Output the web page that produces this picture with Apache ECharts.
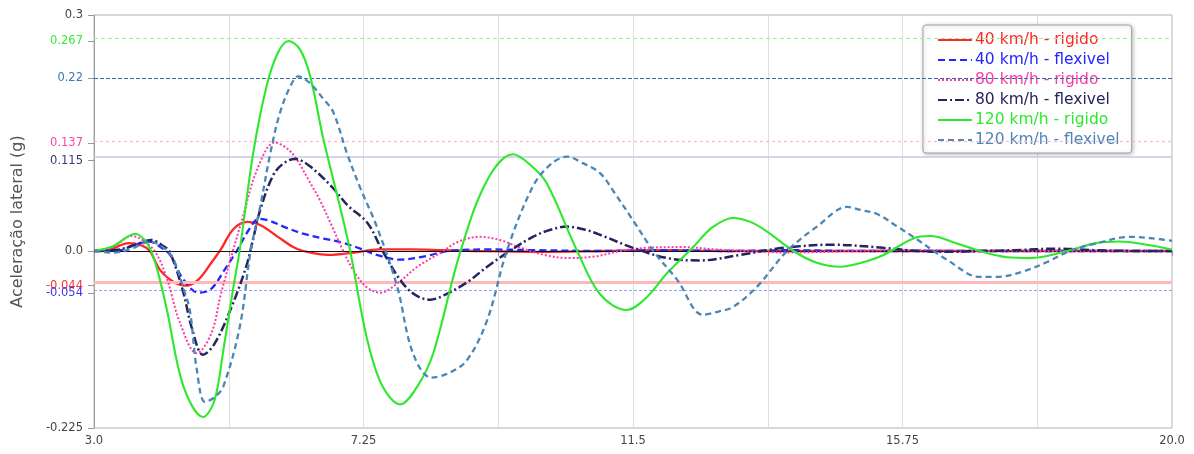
<!DOCTYPE html>
<html>
<head>
<meta charset="utf-8">
<script src="https://cdn.jsdelivr.net/npm/echarts@6/dist/echarts.min.js"></script>
<style>
html,body{margin:0;padding:0;background:#fff;}
#chart{width:1194px;height:454px;}
</style>
</head>
<body>
<div id="chart"></div>
<script>
// ---- data (time in s, lateral acceleration in g) ----
const seriesNames = ['40 km/h - rigido','40 km/h - flexivel','80 km/h - rigido','80 km/h - flexivel','120 km/h - rigido','120 km/h - flexivel'];

const r40 = [[3.0,0],[3.25,0.002],[3.55,0.010],[3.75,0.007],[3.88,0.0],[4.04,-0.024],[4.25,-0.039],[4.45,-0.044],[4.65,-0.036],[4.85,-0.015],[5.0,0.002],[5.2,0.028],[5.42,0.037],[5.62,0.033],[5.9,0.018],[6.14,0.005],[6.3,0.0],[6.7,-0.005],[7.1,-0.002],[7.5,0.002],[8.0,0.002],[8.5,0.001],[9.0,0],[10.0,-0.001],[11.0,0],[12.0,0.001],[13.0,0],[14.0,0],[15.0,0],[16.0,0],[17.0,0],[18.0,0],[19.0,0],[20.0,0]];

const f40 = [[3.0,0],[3.4,0.001],[3.65,0.008],[3.87,0.012],[4.05,0.005],[4.2,-0.005],[4.4,-0.035],[4.65,-0.053],[4.85,-0.048],[5.05,-0.025],[5.25,0.0],[5.45,0.028],[5.6,0.041],[5.75,0.039],[6.05,0.029],[6.3,0.022],[6.6,0.016],[6.9,0.011],[7.2,0.003],[7.46,-0.005],[7.83,-0.011],[8.2,-0.007],[8.6,0.0],[9.2,0.002],[10.0,0.001],[11.0,0],[12.0,0.001],[13.0,0],[14.0,0.001],[15.0,0],[16.0,0],[17.0,0],[18.0,0],[19.0,0],[20.0,0]];

const r80 = [[3.0,0],[3.3,0.005],[3.6,0.019],[3.8,0.012],[3.98,-0.003],[4.15,-0.035],[4.35,-0.09],[4.62,-0.13],[4.85,-0.105],[5.0,-0.055],[5.19,0.0],[5.35,0.044],[5.57,0.103],[5.85,0.138],[6.05,0.13],[6.2,0.116],[6.4,0.088],[6.56,0.065],[6.75,0.032],[6.93,0.0],[7.1,-0.026],[7.3,-0.046],[7.52,-0.053],[7.8,-0.04],[8.1,-0.02],[8.45,-0.003],[8.75,0.012],[9.09,0.018],[9.4,0.014],[9.7,0.005],[10.1,-0.005],[10.5,-0.009],[10.9,-0.007],[11.3,0.0],[11.7,0.004],[12.3,0.005],[12.8,0.002],[13.5,-0.001],[14.0,-0.002],[15.0,0],[16.0,0.001],[17.0,0],[18.0,0],[19.0,0],[20.0,0]];

const f80 = [[3.0,0],[3.4,0.002],[3.65,0.008],[3.9,0.014],[4.1,0.006],[4.2,-0.002],[4.4,-0.05],[4.55,-0.1],[4.72,-0.132],[4.9,-0.118],[5.15,-0.075],[5.4,-0.02],[5.5,0.012],[5.62,0.052],[5.83,0.097],[6.0,0.112],[6.17,0.117],[6.4,0.108],[6.77,0.08],[7.0,0.058],[7.31,0.036],[7.55,0.0],[7.83,-0.037],[8.05,-0.055],[8.3,-0.062],[8.55,-0.055],[8.88,-0.04],[9.2,-0.02],[9.5,-0.003],[9.92,0.018],[10.2,0.027],[10.46,0.031],[10.75,0.027],[11.0,0.02],[11.5,0.004],[12.04,-0.009],[12.56,-0.012],[13.19,-0.005],[13.87,0.004],[14.66,0.008],[15.45,0.004],[16.0,0.0],[16.5,-0.001],[17.0,0],[17.5,0.001],[18.2,0.003],[18.8,0.001],[19.5,0],[20.0,0]];

const r120 = [[3.0,0],[3.3,0.006],[3.65,0.022],[3.8,0.014],[3.9,0.0],[4.0,-0.024],[4.15,-0.075],[4.41,-0.172],[4.72,-0.211],[4.9,-0.19],[5.04,-0.126],[5.2,-0.045],[5.3,0.002],[5.51,0.124],[5.72,0.209],[5.9,0.252],[6.07,0.267],[6.25,0.256],[6.41,0.222],[6.61,0.145],[6.88,0.056],[7.04,0.0],[7.31,-0.113],[7.55,-0.172],[7.83,-0.195],[8.1,-0.172],[8.35,-0.13],[8.77,-0.003],[9.2,0.09],[9.61,0.123],[9.9,0.108],[10.14,0.086],[10.62,0.0],[10.98,-0.055],[11.4,-0.075],[11.7,-0.06],[12.04,-0.028],[12.45,0.005],[12.75,0.03],[13.08,0.042],[13.35,0.037],[13.61,0.025],[14.03,0.0],[14.4,-0.015],[14.77,-0.02],[15.1,-0.015],[15.45,-0.005],[15.92,0.016],[16.19,0.019],[16.6,0.01],[16.97,0.0],[17.4,-0.008],[17.76,-0.009],[18.35,0.0],[18.8,0.01],[19.18,0.012],[19.6,0.008],[20.0,0.002]];

const f120 = [[3.0,0],[3.3,-0.002],[3.6,0.003],[3.88,0.012],[4.1,0.004],[4.25,-0.01],[4.4,-0.045],[4.51,-0.075],[4.62,-0.15],[4.75,-0.192],[4.9,-0.186],[5.04,-0.172],[5.3,-0.096],[5.47,0.0],[5.62,0.056],[5.78,0.124],[5.93,0.175],[6.1,0.21],[6.22,0.222],[6.41,0.213],[6.6,0.195],[6.77,0.177],[6.99,0.124],[7.2,0.08],[7.46,0.031],[7.78,-0.045],[8.03,-0.13],[8.32,-0.161],[8.6,-0.155],[8.88,-0.139],[9.2,-0.088],[9.51,0.0],[9.92,0.082],[10.2,0.11],[10.46,0.12],[10.7,0.112],[10.98,0.099],[11.2,0.075],[11.5,0.039],[11.82,0.0],[12.2,-0.037],[12.6,-0.081],[12.85,-0.077],[13.08,-0.071],[13.46,-0.045],[13.93,0.0],[14.4,0.031],[14.88,0.056],[15.1,0.052],[15.35,0.047],[15.67,0.031],[15.92,0.018],[16.45,-0.011],[16.97,-0.033],[17.24,-0.033],[17.65,-0.026],[18.03,-0.014],[18.39,0.0],[18.82,0.01],[19.34,0.018],[19.7,0.016],[20.0,0.013]];

const refValues = [0.267, 0.22, 0.137, 0.115, 0.0, -0.044, -0.054];
const yTickValues = [0.3, 0.267, 0.22, 0.137, 0.115, 0.0, -0.044, -0.054, -0.225];
const yTickLabels = ['0.3','0.267','0.22','0.137','0.115','0.0','-0.044','-0.054','-0.225'];
const xTickLabels = ['3.0','7.25','11.5','15.75','20.0'];
const xStart = 3.0, xEnd = 20.0, xMinorStep = 2.125, xMajorStep = 4.25;

// ---- styles ----
const FONT = 'DejaVu Sans, Verdana, sans-serif';
const colors = ['#ff2626','#2626ff','#ff3aa8','#24245e','#2de82d','#4a86b6'];
const lineTypes = ['solid',[7,4],[2,2],[9,3,2,3],'solid',[6,4]];
const widths = [2.3,2.3,2,2.5,2.1,2.3];
const yLabelColors = ['#444','#33ee33','#3a78b0','#ff44aa','#3a3a7a','#444','#ff3030','#3434ff','#444'];
const refStyles = [
  {color:'#9af09a', type:[4,3], width:1},
  {color:'#2f6ea8', type:[4,2], width:1},
  {color:'#ffb4da', type:[3,3], width:1.2},
  {color:'#c9c9e2', type:'solid', width:1.6},
  {color:'#111111', type:'solid', width:1},
  {color:'#ffb8b8', type:'solid', width:3},
  {color:'#9a9aff', type:[3,2], width:1}
];

const allData = [r40, f40, r80, f80, r120, f120];
const shift = pts => pts.map(p => [p[0] - xStart, p[1]]);

const rich = {};
yLabelColors.forEach((c,i) => { rich['c'+i] = {color:c, fontSize:11.5, fontFamily:FONT}; });

const series = [{
  name:'refs', type:'line', data:[], z:1, silent:true,
  markLine:{
    silent:true, symbol:['none','none'], label:{show:false},
    animation:false,
    data: refValues.map((v,i) => ({yAxis:v, lineStyle:refStyles[i]}))
  }
}];
seriesNames.forEach((n,i) => {
  series.push({
    name:n, type:'line', data: shift(allData[i]), smooth:0.35, symbol:'none', showSymbol:false,
    z: 3 + i,
    lineStyle:{color:colors[i], type:lineTypes[i], width:widths[i]},
    itemStyle:{color:colors[i]}
  });
});

const chart = echarts.init(document.getElementById('chart'), null, {renderer:'canvas'});
chart.setOption({
  animation:false,
  backgroundColor:'#fff',
  textStyle:{fontFamily:FONT},
  grid:{left:94, right:22, top:15, bottom:26, show:true, borderColor:'#b0b0b0', borderWidth:1},
  legend:{
    orient:'vertical', left:923, top:25,
    itemWidth:34, itemHeight:14, itemGap:4,
    padding:[7,12,5,14],
    backgroundColor:'#fff', borderColor:'#a0a0a0', borderWidth:1, borderRadius:3,
    shadowColor:'rgba(0,0,0,0.25)', shadowBlur:4, shadowOffsetX:1, shadowOffsetY:1,
    itemStyle:{opacity:0},
    textStyle:{fontSize:15.5, fontFamily:FONT, padding:[0,0,0,-2]},
    data: seriesNames.map((n,i) => ({name:n, textStyle:{color:colors[i]}}))
  },
  xAxis:{
    type:'value', min:0, max:xEnd - xStart, interval:xMinorStep,
    axisLine:{lineStyle:{color:'#b0b0b0'}},
    axisTick:{show:true, length:5, lineStyle:{color:'#999'}},
    splitLine:{show:true, lineStyle:{color:'#dedede', width:1}},
    axisLabel:{
      color:'#444', fontSize:11.5, margin:7, fontFamily:FONT,
      formatter: v => {
        const k = Math.round(v / xMajorStep);
        return Math.abs(v - k * xMajorStep) < 1e-6 ? xTickLabels[k] : '';
      }
    }
  },
  yAxis:{
    type:'value', min:-0.225, max:0.3,
    name:'Aceleração lateral (g)', nameLocation:'middle', nameGap:68,
    nameTextStyle:{color:'#555', fontSize:16, fontFamily:FONT},
    axisLine:{show:true, lineStyle:{color:'#a0a0a0'}},
    axisTick:{show:true, length:6, customValues:yTickValues, lineStyle:{color:'#999'}},
    splitLine:{show:false},
    axisLabel:{
      customValues:yTickValues, margin:11, rich:rich,
      formatter: v => {
        const i = yTickValues.findIndex(t => Math.abs(t - v) < 1e-9);
        return i < 0 ? '' : '{c'+i+'|'+yTickLabels[i]+'}';
      }
    }
  },
  series: series
});
</script>
</body>
</html>
